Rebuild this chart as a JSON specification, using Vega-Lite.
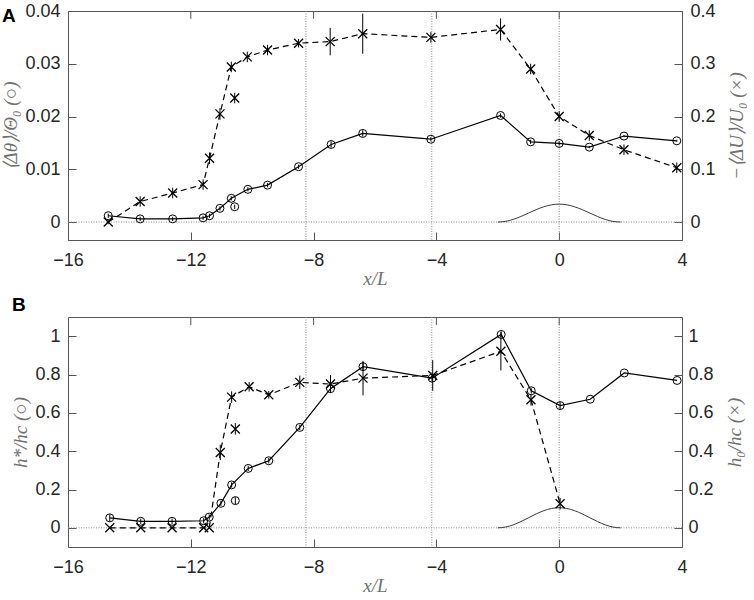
{
  "$schema": "https://vega.github.io/schema/vega-lite/v6.json",
  "description": "Temperature, velocity and height deficits along x/L, panels A and B",
  "padding": {"top": 1, "left": 1, "right": 0, "bottom": 0},
  "config": {
    "view": {"stroke": "#555555", "strokeWidth": 1},
    "axis": {
      "labelFont": "Liberation Sans",
      "labelFontSize": 18,
      "labelColor": "#262626",
      "labelFlush": false,
      "ticks": true,
      "tickOpacity": 1,
      "tickColor": "#555555",
      "tickSize": 8,
      "tickWidth": 1,
      "offset": -8,
      "domain": false,
      "grid": false,
      "labelPadding": 8,
      "titleFont": "Liberation Serif",
      "titleFontStyle": "italic",
      "titleFontWeight": "normal",
      "titleFontSize": 19,
      "titleColor": "#707070",
      "titlePadding": 4,
      "zindex": 1
    },
    "axisX": {"labelPadding": 11, "titlePadding": 0},
    "axisRight": {"labelPadding": 8, "titlePadding": 12, "titleAngle": 270, "titleBaseline": "top"},
    "title": {"font": "Liberation Sans", "fontSize": 19, "fontWeight": "bold", "color": "#000000", "anchor": "start", "frame": "bounds"}
  },
  "datasets": {
    "vlines": [{"x": -8.25}, {"x": -4.15}, {"x": 0}],
    "topticks": [{"x": -12}, {"x": -8}, {"x": -4}, {"x": 0}],
    "zero": [{"y": 0}],
    "a_bump": [
      {"x": -2, "y": 0}, {"x": -1.75, "y": 0.00013}, {"x": -1.5, "y": 0.0005}, {"x": -1.25, "y": 0.00105},
      {"x": -1, "y": 0.0017}, {"x": -0.75, "y": 0.00235}, {"x": -0.5, "y": 0.0029}, {"x": -0.25, "y": 0.00327},
      {"x": 0, "y": 0.0034}, {"x": 0.25, "y": 0.00327}, {"x": 0.5, "y": 0.0029}, {"x": 0.75, "y": 0.00235},
      {"x": 1, "y": 0.0017}, {"x": 1.25, "y": 0.00105}, {"x": 1.5, "y": 0.0005}, {"x": 1.75, "y": 0.00013}, {"x": 2, "y": 0}
    ],
    "a_circ": [
      {"x": -14.69, "y": 0.0012, "lo": 0.0008, "hi": 0.0016, "conn": 1},
      {"x": -13.65, "y": 0.0006, "lo": 0.0002, "hi": 0.001, "conn": 1},
      {"x": -12.59, "y": 0.0006, "lo": 0.0002, "hi": 0.001, "conn": 1},
      {"x": -11.6, "y": 0.0008, "lo": 0.0004, "hi": 0.0012, "conn": 1},
      {"x": -11.39, "y": 0.0012, "lo": 0.0008, "hi": 0.0016, "conn": 1},
      {"x": -11.05, "y": 0.0026, "lo": 0.0022, "hi": 0.003, "conn": 1},
      {"x": -10.68, "y": 0.0045, "lo": 0.0041, "hi": 0.0049, "conn": 1},
      {"x": -10.57, "y": 0.0029, "lo": 0.0025, "hi": 0.0033, "conn": 0},
      {"x": -10.14, "y": 0.0062, "lo": 0.0058, "hi": 0.0066, "conn": 1},
      {"x": -9.5, "y": 0.007, "lo": 0.0066, "hi": 0.0074, "conn": 1},
      {"x": -8.49, "y": 0.0105, "lo": 0.0101, "hi": 0.0109, "conn": 1},
      {"x": -7.43, "y": 0.0147, "lo": 0.0141, "hi": 0.0153, "conn": 1},
      {"x": -6.4, "y": 0.0168, "lo": 0.0162, "hi": 0.0174, "conn": 1},
      {"x": -4.18, "y": 0.0157, "lo": 0.0153, "hi": 0.0161, "conn": 1},
      {"x": -1.91, "y": 0.0202, "lo": 0.0198, "hi": 0.0206, "conn": 1},
      {"x": -0.93, "y": 0.0152, "lo": 0.0148, "hi": 0.0156, "conn": 1},
      {"x": 0, "y": 0.0149, "lo": 0.0145, "hi": 0.0153, "conn": 1},
      {"x": 0.98, "y": 0.0142, "lo": 0.014, "hi": 0.0144, "conn": 1},
      {"x": 2.11, "y": 0.0163, "lo": 0.0161, "hi": 0.0165, "conn": 1},
      {"x": 3.83, "y": 0.0154, "lo": 0.0152, "hi": 0.0156, "conn": 1}
    ],
    "a_cross": [
      {"x": -14.69, "y": 0, "lo": -0.004, "hi": 0.004, "conn": 1},
      {"x": -13.65, "y": 0.039, "lo": 0.029, "hi": 0.049, "conn": 1},
      {"x": -12.59, "y": 0.055, "lo": 0.045, "hi": 0.065, "conn": 1},
      {"x": -11.6, "y": 0.071, "lo": 0.061, "hi": 0.081, "conn": 1},
      {"x": -11.39, "y": 0.121, "lo": 0.11, "hi": 0.132, "conn": 1},
      {"x": -11.05, "y": 0.205, "lo": 0.194, "hi": 0.216, "conn": 1},
      {"x": -10.68, "y": 0.294, "lo": 0.284, "hi": 0.304, "conn": 1},
      {"x": -10.57, "y": 0.235, "lo": 0.225, "hi": 0.245, "conn": 0},
      {"x": -10.16, "y": 0.313, "lo": 0.303, "hi": 0.323, "conn": 1},
      {"x": -9.5, "y": 0.326, "lo": 0.316, "hi": 0.336, "conn": 1},
      {"x": -8.49, "y": 0.339, "lo": 0.331, "hi": 0.347, "conn": 1},
      {"x": -7.46, "y": 0.342, "lo": 0.316, "hi": 0.368, "conn": 1},
      {"x": -6.4, "y": 0.357, "lo": 0.319, "hi": 0.395, "conn": 1},
      {"x": -4.18, "y": 0.35, "lo": 0.34, "hi": 0.36, "conn": 1},
      {"x": -1.91, "y": 0.365, "lo": 0.344, "hi": 0.386, "conn": 1},
      {"x": -0.93, "y": 0.29, "lo": 0.28, "hi": 0.3, "conn": 1},
      {"x": 0, "y": 0.2, "lo": 0.19, "hi": 0.21, "conn": 1},
      {"x": 0.98, "y": 0.164, "lo": 0.154, "hi": 0.174, "conn": 1},
      {"x": 2.11, "y": 0.137, "lo": 0.127, "hi": 0.147, "conn": 1},
      {"x": 3.83, "y": 0.103, "lo": 0.093, "hi": 0.113, "conn": 1}
    ],
    "b_bump": [
      {"x": -2, "y": 0}, {"x": -1.75, "y": 0.004}, {"x": -1.5, "y": 0.0154}, {"x": -1.25, "y": 0.0324},
      {"x": -1, "y": 0.0525}, {"x": -0.75, "y": 0.0726}, {"x": -0.5, "y": 0.0896}, {"x": -0.25, "y": 0.101},
      {"x": 0, "y": 0.105}, {"x": 0.25, "y": 0.101}, {"x": 0.5, "y": 0.0896}, {"x": 0.75, "y": 0.0726},
      {"x": 1, "y": 0.0525}, {"x": 1.25, "y": 0.0324}, {"x": 1.5, "y": 0.0154}, {"x": 1.75, "y": 0.004}, {"x": 2, "y": 0}
    ],
    "b_circ": [
      {"x": -14.64, "y": 0.052, "lo": 0.034, "hi": 0.07, "conn": 1},
      {"x": -13.63, "y": 0.034, "lo": 0.02, "hi": 0.048, "conn": 1},
      {"x": -12.61, "y": 0.034, "lo": 0.02, "hi": 0.048, "conn": 1},
      {"x": -11.58, "y": 0.037, "lo": 0.023, "hi": 0.051, "conn": 1},
      {"x": -11.4, "y": 0.056, "lo": 0.042, "hi": 0.07, "conn": 1},
      {"x": -11.02, "y": 0.128, "lo": 0.114, "hi": 0.142, "conn": 1},
      {"x": -10.67, "y": 0.224, "lo": 0.21, "hi": 0.238, "conn": 1},
      {"x": -10.55, "y": 0.142, "lo": 0.124, "hi": 0.16, "conn": 0},
      {"x": -10.13, "y": 0.31, "lo": 0.296, "hi": 0.324, "conn": 1},
      {"x": -9.46, "y": 0.35, "lo": 0.336, "hi": 0.364, "conn": 1},
      {"x": -8.45, "y": 0.524, "lo": 0.51, "hi": 0.538, "conn": 1},
      {"x": -7.45, "y": 0.726, "lo": 0.706, "hi": 0.746, "conn": 1},
      {"x": -6.39, "y": 0.841, "lo": 0.817, "hi": 0.865, "conn": 1},
      {"x": -4.14, "y": 0.781, "lo": 0.765, "hi": 0.797, "conn": 1},
      {"x": -1.89, "y": 1.009, "lo": 0.993, "hi": 1.025, "conn": 1},
      {"x": -0.91, "y": 0.715, "lo": 0.701, "hi": 0.729, "conn": 1},
      {"x": 0.03, "y": 0.638, "lo": 0.62, "hi": 0.656, "conn": 1},
      {"x": 1.01, "y": 0.671, "lo": 0.671, "hi": 0.671, "conn": 1},
      {"x": 2.12, "y": 0.808, "lo": 0.808, "hi": 0.808, "conn": 1},
      {"x": 3.84, "y": 0.769, "lo": 0.769, "hi": 0.769, "conn": 1}
    ],
    "b_cross": [
      {"x": -14.64, "y": 0, "lo": 0, "hi": 0, "conn": 1},
      {"x": -13.63, "y": 0, "lo": 0, "hi": 0, "conn": 1},
      {"x": -12.61, "y": 0, "lo": 0, "hi": 0, "conn": 1},
      {"x": -11.58, "y": 0, "lo": 0, "hi": 0, "conn": 1},
      {"x": -11.4, "y": 0, "lo": 0, "hi": 0, "conn": 1},
      {"x": -11.04, "y": 0.393, "lo": 0.353, "hi": 0.433, "conn": 1},
      {"x": -10.67, "y": 0.682, "lo": 0.652, "hi": 0.712, "conn": 1},
      {"x": -10.55, "y": 0.516, "lo": 0.486, "hi": 0.546, "conn": 0},
      {"x": -10.1, "y": 0.736, "lo": 0.711, "hi": 0.761, "conn": 1},
      {"x": -9.46, "y": 0.694, "lo": 0.674, "hi": 0.714, "conn": 1},
      {"x": -8.45, "y": 0.759, "lo": 0.724, "hi": 0.794, "conn": 1},
      {"x": -7.45, "y": 0.75, "lo": 0.703, "hi": 0.797, "conn": 1},
      {"x": -6.39, "y": 0.781, "lo": 0.691, "hi": 0.871, "conn": 1},
      {"x": -4.12, "y": 0.795, "lo": 0.715, "hi": 0.875, "conn": 1},
      {"x": -1.9, "y": 0.921, "lo": 0.821, "hi": 1.021, "conn": 1},
      {"x": -0.92, "y": 0.668, "lo": 0.638, "hi": 0.698, "conn": 1},
      {"x": 0.03, "y": 0.126, "lo": 0.096, "hi": 0.156, "conn": 1}
    ]
  },
  "spacing": 6,
  "vconcat": [
    {
      "width": 614,
      "height": 229,
      "title": {"text": "A", "offset": -24},
      "layer": [
        {
          "layer": [
            {
              "data": {"name": "vlines"},
              "mark": {"type": "rule", "color": "#8a8a8a", "strokeWidth": 1, "strokeDash": [1, 1.5]},
              "encoding": {
                "x": {"field": "x", "type": "quantitative", "scale": {"domain": [-16, 4], "nice": false, "zero": false}, "axis": {"values": [-16, -12, -8, -4, 0, 4], "title": "x/L"}}
              }
            },
            {
              "data": {"name": "zero"},
              "mark": {"type": "rule", "color": "#8a8a8a", "strokeWidth": 1, "strokeDash": [1, 1.5]},
              "encoding": {
                "y": {"field": "y", "type": "quantitative", "scale": {"domain": [-0.0034, 0.04], "nice": false, "zero": false}, "axis": {"orient": "left", "values": [0, 0.01, 0.02, 0.03, 0.04], "format": "~g", "title": "⟨Δθ⟩/Θ₀   (○)"}}
              }
            },
            {
              "data": {"name": "a_bump"},
              "mark": {"type": "line", "color": "#3a3a3a", "strokeWidth": 1, "interpolate": "monotone"},
              "encoding": {
                "x": {"field": "x", "type": "quantitative", "scale": {"domain": [-16, 4], "nice": false, "zero": false}, "axis": {"values": [-16, -12, -8, -4, 0, 4], "title": "x/L"}},
                "y": {"field": "y", "type": "quantitative", "scale": {"domain": [-0.0034, 0.04], "nice": false, "zero": false}, "axis": {"orient": "left", "values": [0, 0.01, 0.02, 0.03, 0.04], "format": "~g", "title": "⟨Δθ⟩/Θ₀   (○)"}}
              }
            },
            {
              "data": {"name": "a_circ"},
              "mark": {"type": "rule", "color": "#000000", "strokeWidth": 1},
              "encoding": {
                "x": {"field": "x", "type": "quantitative", "scale": {"domain": [-16, 4], "nice": false, "zero": false}, "axis": {"values": [-16, -12, -8, -4, 0, 4], "title": "x/L"}},
                "y": {"field": "lo", "type": "quantitative", "scale": {"domain": [-0.0034, 0.04], "nice": false, "zero": false}, "axis": {"orient": "left", "values": [0, 0.01, 0.02, 0.03, 0.04], "format": "~g", "title": "⟨Δθ⟩/Θ₀   (○)"}},
                "y2": {"field": "hi"}
              }
            },
            {
              "data": {"name": "a_circ"},
              "transform": [{"filter": "datum.conn == 1"}],
              "mark": {"type": "line", "color": "#000000", "strokeWidth": 1.2},
              "encoding": {
                "x": {"field": "x", "type": "quantitative", "scale": {"domain": [-16, 4], "nice": false, "zero": false}, "axis": {"values": [-16, -12, -8, -4, 0, 4], "title": "x/L"}},
                "y": {"field": "y", "type": "quantitative", "scale": {"domain": [-0.0034, 0.04], "nice": false, "zero": false}, "axis": {"orient": "left", "values": [0, 0.01, 0.02, 0.03, 0.04], "format": "~g", "title": "⟨Δθ⟩/Θ₀   (○)"}}
              }
            },
            {
              "data": {"name": "a_circ"},
              "mark": {"type": "point", "shape": "circle", "filled": false, "size": 64, "color": "#000000", "strokeWidth": 1, "opacity": 1},
              "encoding": {
                "x": {"field": "x", "type": "quantitative", "scale": {"domain": [-16, 4], "nice": false, "zero": false}, "axis": {"values": [-16, -12, -8, -4, 0, 4], "title": "x/L"}},
                "y": {"field": "y", "type": "quantitative", "scale": {"domain": [-0.0034, 0.04], "nice": false, "zero": false}, "axis": {"orient": "left", "values": [0, 0.01, 0.02, 0.03, 0.04], "format": "~g", "title": "⟨Δθ⟩/Θ₀   (○)"}}
              }
            },
            {
              "data": {"name": "topticks"},
              "mark": {"type": "rule", "color": "#555555", "strokeWidth": 1},
              "encoding": {
                "x": {"field": "x", "type": "quantitative", "scale": {"domain": [-16, 4], "nice": false, "zero": false}, "axis": {"values": [-16, -12, -8, -4, 0, 4], "title": "x/L"}},
                "y": {"datum": 0.04, "type": "quantitative"},
                "y2": {"datum": 0.0385}
              }
            }
          ]
        },
        {
          "data": {"name": "a_cross"},
          "layer": [
            {
              "mark": {"type": "rule", "color": "#000000", "strokeWidth": 1},
              "encoding": {
                "x": {"field": "x", "type": "quantitative", "scale": {"domain": [-16, 4], "nice": false, "zero": false}, "axis": {"values": [-16, -12, -8, -4, 0, 4], "title": "x/L"}},
                "y": {"field": "lo", "type": "quantitative", "scale": {"domain": [-0.034, 0.4], "nice": false, "zero": false}, "axis": {"orient": "right", "values": [0, 0.1, 0.2, 0.3, 0.4], "format": "~g", "title": "−⟨ΔU⟩/U₀   (×)"}},
                "y2": {"field": "hi"}
              }
            },
            {
              "transform": [{"filter": "datum.conn == 1"}],
              "mark": {"type": "line", "color": "#000000", "strokeWidth": 1.2, "strokeDash": [6, 4]},
              "encoding": {
                "x": {"field": "x", "type": "quantitative", "scale": {"domain": [-16, 4], "nice": false, "zero": false}, "axis": {"values": [-16, -12, -8, -4, 0, 4], "title": "x/L"}},
                "y": {"field": "y", "type": "quantitative", "scale": {"domain": [-0.034, 0.4], "nice": false, "zero": false}, "axis": {"orient": "right", "values": [0, 0.1, 0.2, 0.3, 0.4], "format": "~g", "title": "−⟨ΔU⟩/U₀   (×)"}}
              }
            },
            {
              "mark": {"type": "point", "shape": "M-1,-1L1,1M-1,1L1,-1", "filled": false, "size": 81, "color": "#000000", "strokeWidth": 1.3, "opacity": 1},
              "encoding": {
                "x": {"field": "x", "type": "quantitative", "scale": {"domain": [-16, 4], "nice": false, "zero": false}, "axis": {"values": [-16, -12, -8, -4, 0, 4], "title": "x/L"}},
                "y": {"field": "y", "type": "quantitative", "scale": {"domain": [-0.034, 0.4], "nice": false, "zero": false}, "axis": {"orient": "right", "values": [0, 0.1, 0.2, 0.3, 0.4], "format": "~g", "title": "−⟨ΔU⟩/U₀   (×)"}}
              }
            }
          ]
        }
      ],
      "resolve": {"scale": {"y": "independent"}}
    },
    {
      "width": 614,
      "height": 230,
      "title": {"text": "B", "offset": 2},
      "layer": [
        {
          "layer": [
            {
              "data": {"name": "vlines"},
              "mark": {"type": "rule", "color": "#8a8a8a", "strokeWidth": 1, "strokeDash": [1, 1.5]},
              "encoding": {
                "x": {"field": "x", "type": "quantitative", "scale": {"domain": [-16, 4], "nice": false, "zero": false}, "axis": {"values": [-16, -12, -8, -4, 0, 4], "title": "x/L"}}
              }
            },
            {
              "data": {"name": "zero"},
              "mark": {"type": "rule", "color": "#8a8a8a", "strokeWidth": 1, "strokeDash": [1, 1.5]},
              "encoding": {
                "y": {"field": "y", "type": "quantitative", "scale": {"domain": [-0.1, 1.1], "nice": false, "zero": false}, "axis": {"orient": "left", "values": [0, 0.2, 0.4, 0.6, 0.8, 1], "format": "~g", "title": "h*/hc   (○)"}}
              }
            },
            {
              "data": {"name": "b_bump"},
              "mark": {"type": "line", "color": "#3a3a3a", "strokeWidth": 1, "interpolate": "monotone"},
              "encoding": {
                "x": {"field": "x", "type": "quantitative", "scale": {"domain": [-16, 4], "nice": false, "zero": false}, "axis": {"values": [-16, -12, -8, -4, 0, 4], "title": "x/L"}},
                "y": {"field": "y", "type": "quantitative", "scale": {"domain": [-0.1, 1.1], "nice": false, "zero": false}, "axis": {"orient": "left", "values": [0, 0.2, 0.4, 0.6, 0.8, 1], "format": "~g", "title": "h*/hc   (○)"}}
              }
            },
            {
              "data": {"name": "b_circ"},
              "mark": {"type": "rule", "color": "#000000", "strokeWidth": 1},
              "encoding": {
                "x": {"field": "x", "type": "quantitative", "scale": {"domain": [-16, 4], "nice": false, "zero": false}, "axis": {"values": [-16, -12, -8, -4, 0, 4], "title": "x/L"}},
                "y": {"field": "lo", "type": "quantitative", "scale": {"domain": [-0.1, 1.1], "nice": false, "zero": false}, "axis": {"orient": "left", "values": [0, 0.2, 0.4, 0.6, 0.8, 1], "format": "~g", "title": "h*/hc   (○)"}},
                "y2": {"field": "hi"}
              }
            },
            {
              "data": {"name": "b_circ"},
              "transform": [{"filter": "datum.conn == 1"}],
              "mark": {"type": "line", "color": "#000000", "strokeWidth": 1.2},
              "encoding": {
                "x": {"field": "x", "type": "quantitative", "scale": {"domain": [-16, 4], "nice": false, "zero": false}, "axis": {"values": [-16, -12, -8, -4, 0, 4], "title": "x/L"}},
                "y": {"field": "y", "type": "quantitative", "scale": {"domain": [-0.1, 1.1], "nice": false, "zero": false}, "axis": {"orient": "left", "values": [0, 0.2, 0.4, 0.6, 0.8, 1], "format": "~g", "title": "h*/hc   (○)"}}
              }
            },
            {
              "data": {"name": "b_circ"},
              "mark": {"type": "point", "shape": "circle", "filled": false, "size": 64, "color": "#000000", "strokeWidth": 1, "opacity": 1},
              "encoding": {
                "x": {"field": "x", "type": "quantitative", "scale": {"domain": [-16, 4], "nice": false, "zero": false}, "axis": {"values": [-16, -12, -8, -4, 0, 4], "title": "x/L"}},
                "y": {"field": "y", "type": "quantitative", "scale": {"domain": [-0.1, 1.1], "nice": false, "zero": false}, "axis": {"orient": "left", "values": [0, 0.2, 0.4, 0.6, 0.8, 1], "format": "~g", "title": "h*/hc   (○)"}}
              }
            },
            {
              "data": {"name": "topticks"},
              "mark": {"type": "rule", "color": "#555555", "strokeWidth": 1},
              "encoding": {
                "x": {"field": "x", "type": "quantitative", "scale": {"domain": [-16, 4], "nice": false, "zero": false}, "axis": {"values": [-16, -12, -8, -4, 0, 4], "title": "x/L"}},
                "y": {"datum": 1.1, "type": "quantitative"},
                "y2": {"datum": 1.058}
              }
            }
          ]
        },
        {
          "data": {"name": "b_cross"},
          "layer": [
            {
              "mark": {"type": "rule", "color": "#000000", "strokeWidth": 1},
              "encoding": {
                "x": {"field": "x", "type": "quantitative", "scale": {"domain": [-16, 4], "nice": false, "zero": false}, "axis": {"values": [-16, -12, -8, -4, 0, 4], "title": "x/L"}},
                "y": {"field": "lo", "type": "quantitative", "scale": {"domain": [-0.1, 1.1], "nice": false, "zero": false}, "axis": {"orient": "right", "values": [0, 0.2, 0.4, 0.6, 0.8, 1], "format": "~g", "labelPadding": 6, "title": "h₀/hc   (×)"}},
                "y2": {"field": "hi"}
              }
            },
            {
              "transform": [{"filter": "datum.conn == 1"}],
              "mark": {"type": "line", "color": "#000000", "strokeWidth": 1.2, "strokeDash": [6, 4]},
              "encoding": {
                "x": {"field": "x", "type": "quantitative", "scale": {"domain": [-16, 4], "nice": false, "zero": false}, "axis": {"values": [-16, -12, -8, -4, 0, 4], "title": "x/L"}},
                "y": {"field": "y", "type": "quantitative", "scale": {"domain": [-0.1, 1.1], "nice": false, "zero": false}, "axis": {"orient": "right", "values": [0, 0.2, 0.4, 0.6, 0.8, 1], "format": "~g", "labelPadding": 6, "title": "h₀/hc   (×)"}}
              }
            },
            {
              "mark": {"type": "point", "shape": "M-1,-1L1,1M-1,1L1,-1", "filled": false, "size": 81, "color": "#000000", "strokeWidth": 1.3, "opacity": 1},
              "encoding": {
                "x": {"field": "x", "type": "quantitative", "scale": {"domain": [-16, 4], "nice": false, "zero": false}, "axis": {"values": [-16, -12, -8, -4, 0, 4], "title": "x/L"}},
                "y": {"field": "y", "type": "quantitative", "scale": {"domain": [-0.1, 1.1], "nice": false, "zero": false}, "axis": {"orient": "right", "values": [0, 0.2, 0.4, 0.6, 0.8, 1], "format": "~g", "labelPadding": 6, "title": "h₀/hc   (×)"}}
              }
            }
          ]
        }
      ],
      "resolve": {"scale": {"y": "independent"}}
    }
  ]
}
